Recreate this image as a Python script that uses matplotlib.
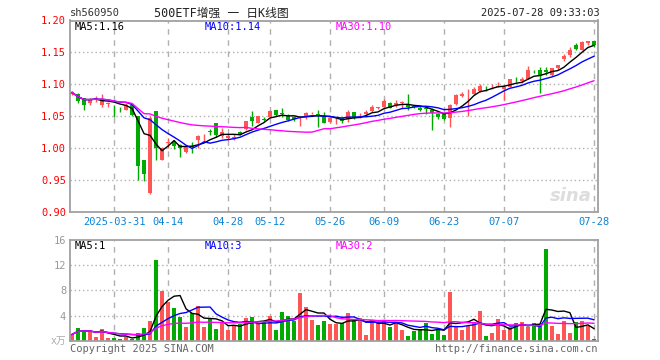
import matplotlib.pyplot as plt
import numpy as np
import pandas as pd

# sh560950 daily K data (2025-03-20 .. 2025-07-28)
holidays = ['2025-04-04', '2025-05-01', '2025-05-02', '2025-05-05', '2025-06-02']
dates = [d for d in pd.bdate_range('2025-03-20', '2025-07-28').strftime('%Y-%m-%d') if d not in holidays]

opens = [1.084, 1.085, 1.078, 1.070, 1.076, 1.068, 1.069, 1.060, 1.061, 1.060,
         1.068, 1.050, 0.982, 0.929, 1.058, 0.982, 1.008, 1.009, 1.005, 0.993,
         1.003, 1.012, 1.017, 1.026, 1.039, 1.019, 1.016, 1.015, 1.025, 1.030,
         1.048, 1.039, 1.045, 1.049, 1.060, 1.055, 1.050, 1.049, 1.047, 1.050,
         1.056, 1.053, 1.049, 1.041, 1.042, 1.047, 1.045, 1.057, 1.050, 1.053,
         1.058, 1.063, 1.065, 1.071, 1.067, 1.071, 1.069, 1.066, 1.063, 1.063,
         1.060, 1.054, 1.053, 1.047, 1.069, 1.082, 1.084, 1.084, 1.089, 1.093,
         1.100, 1.095, 1.093, 1.096, 1.105, 1.105, 1.109, 1.120, 1.122, 1.122,
         1.114, 1.126, 1.140, 1.146, 1.161, 1.154, 1.164, 1.168]
highs = [1.090, 1.087, 1.078, 1.078, 1.081, 1.084, 1.072, 1.068, 1.065, 1.071,
         1.070, 1.050, 0.982, 1.051, 1.058, 1.001, 1.016, 1.012, 1.006, 1.002,
         1.009, 1.021, 1.022, 1.030, 1.040, 1.031, 1.024, 1.022, 1.026, 1.042,
         1.058, 1.050, 1.049, 1.059, 1.060, 1.062, 1.053, 1.051, 1.049, 1.057,
         1.057, 1.059, 1.056, 1.049, 1.047, 1.048, 1.060, 1.057, 1.055, 1.060,
         1.067, 1.065, 1.077, 1.072, 1.076, 1.074, 1.084, 1.067, 1.066, 1.064,
         1.062, 1.055, 1.053, 1.069, 1.085, 1.088, 1.093, 1.095, 1.100, 1.098,
         1.101, 1.103, 1.099, 1.109, 1.112, 1.112, 1.128, 1.122, 1.127, 1.127,
         1.126, 1.130, 1.147, 1.158, 1.165, 1.168, 1.168, 1.168]
lows = [1.083, 1.071, 1.059, 1.067, 1.072, 1.065, 1.065, 1.049, 1.057, 1.059,
        1.051, 0.950, 0.949, 0.928, 0.981, 0.981, 1.000, 0.999, 0.986, 0.992,
        0.992, 1.000, 1.011, 1.020, 1.018, 1.016, 1.012, 1.012, 1.021, 1.029,
        1.034, 1.039, 1.042, 1.048, 1.050, 1.049, 1.042, 1.042, 1.034, 1.045,
        1.053, 1.033, 1.039, 1.039, 1.038, 1.039, 1.041, 1.046, 1.047, 1.052,
        1.056, 1.061, 1.064, 1.063, 1.064, 1.063, 1.059, 1.063, 1.058, 1.054,
        1.029, 1.046, 1.044, 1.033, 1.067, 1.080, 1.051, 1.083, 1.088, 1.090,
        1.093, 1.095, 1.076, 1.095, 1.104, 1.102, 1.108, 1.117, 1.086, 1.114,
        1.113, 1.122, 1.137, 1.143, 1.153, 1.153, 1.161, 1.159]
closes = [1.087, 1.074, 1.067, 1.076, 1.079, 1.076, 1.070, 1.0595, 1.0605, 1.068,
          1.052, 0.972, 0.960, 1.047, 1.000, 1.000, 1.0085, 1.003, 1.000, 1.001,
          1.002, 1.019, 1.0175, 1.0255, 1.020, 1.025, 1.019, 1.018, 1.022, 1.042,
          1.042, 1.050, 1.044, 1.058, 1.052, 1.054, 1.044, 1.045, 1.0475, 1.0555,
          1.0565, 1.050, 1.040, 1.047, 1.0425, 1.043, 1.057, 1.047, 1.0505, 1.057,
          1.065, 1.0635, 1.073, 1.063, 1.071, 1.0715, 1.064, 1.065, 1.059, 1.061,
          1.055, 1.048, 1.045, 1.067, 1.083, 1.085, 1.0845, 1.092, 1.097, 1.0925,
          1.101, 1.098, 1.096, 1.108, 1.1045, 1.109, 1.122, 1.119, 1.114, 1.1185,
          1.126, 1.130, 1.145, 1.154, 1.155, 1.166, 1.168, 1.162]
# volume, unit 万
volumes = [1.0, 2.0, 1.6, 1.54, 0.64, 1.86, 0.48, 0.48, 0.27, 0.64,
           0.3, 1.17, 2.07, 3.13, 12.8, 7.95, 6.2, 5.25, 3.7, 2.2,
           4.35, 5.5, 2.2, 3.4, 1.9, 2.75, 1.7, 2.5, 2.65, 3.65,
           3.7, 2.65, 3.0, 3.9, 1.7, 4.6, 3.9, 3.2, 7.6, 5.4,
           3.3, 2.5, 3.2, 2.65, 2.65, 2.75, 4.4, 3.3, 3.65, 0.9,
           3.3, 2.75, 3.3, 2.2, 2.75, 1.7, 0.74, 1.6, 1.9, 2.75,
           1.06, 1.7, 0.9, 7.7, 2.3, 1.7, 2.3, 3.0, 4.7, 0.74,
           1.17, 3.4, 1.7, 2.2, 2.75, 2.9, 2.2, 2.75, 2.5, 14.6,
           2.3, 1.06, 3.1, 1.17, 2.9, 3.1, 2.3, 0.2]

tick_dates = ['2025-03-31', '2025-04-14', '2025-04-28', '2025-05-12', '2025-05-26',
              '2025-06-09', '2025-06-23', '2025-07-07', '2025-07-28']
tick_labels = ['2025-03-31', '04-14', '04-28', '05-12', '05-26', '06-09', '06-23', '07-07', '07-28']
price_ticks = [0.90, 0.95, 1.00, 1.05, 1.10, 1.15, 1.20]
vol_ticks = [4, 8, 12, 16]

RED = '#ff5555'
GREEN = '#00aa00'
GRAY = '#a0a0a0'
MONO = 'DejaVu Sans Mono'
FAM = [MONO, 'Noto Sans CJK SC']

o = np.array(opens)
h = np.array(highs)
l = np.array(lows)
c = np.array(closes)
v = np.array(volumes)
x = np.arange(len(c))
cols = np.where(c >= o, RED, GREEN)
tick_idx = [dates.index(d) for d in tick_dates]

ma = {n: pd.Series(c).rolling(n, min_periods=1).mean() for n in (5, 10, 30)}
vma = {n: pd.Series(v).rolling(n, min_periods=1).mean() for n in (5, 10, 30)}
ma_cols = {5: 'black', 10: '#0000ff', 30: '#ff00ff'}

W, H = 660, 360
fig = plt.figure(figsize=(W / 100, H / 100), dpi=100)
fig.patch.set_facecolor('white')


def px(xp, yp):
    return xp / W, 1 - yp / H


ax = fig.add_axes([70.3 / W, 1 - 211.8 / H, 527.2 / W, 191.3 / H])
axv = fig.add_axes([70.3 / W, 1 - 340.7 / H, 527.2 / W, 100.7 / H])

for a in (ax, axv):
    a.set_xlim(-0.3, 87.6)
    for s in a.spines.values():
        s.set_color(GRAY)
        s.set_linewidth(1.3)
    for t in tick_idx:
        a.axvline(t, color='#b0b0b0', lw=1, ls=(0, (4, 4)), zorder=0)

# price panel
ax.set_ylim(0.90, 1.20)
for p in price_ticks[1:-1]:
    ax.axhline(p, color='#b0b0b0', lw=1, ls=(0, (1, 2)), zorder=0)
ax.vlines(x, l, h, colors=cols, lw=1, zorder=2)
body = np.maximum(np.abs(c - o), 0.0007)
ax.bar(x, body, bottom=np.minimum(o, c), width=0.72, color=cols, lw=0, zorder=3)
for n in (5, 10, 30):
    ax.plot(x, ma[n], color=ma_cols[n], lw=1, zorder=4)
ax.set_yticks(price_ticks)
ax.set_yticklabels(['%.2f' % p for p in price_ticks], family=MONO, fontsize=7.5, color='red')
ax.set_xticks(tick_idx)
ax.set_xticklabels(tick_labels, family=MONO, fontsize=7.5, color='#0a84d6')
ax.tick_params(length=0, pad=4)
ax.tick_params(axis='y', pad=3)

# volume panel
axv.set_ylim(0, 16)
for q in vol_ticks[:-1]:
    axv.axhline(q, color='#b0b0b0', lw=1, ls=(0, (1, 2)), zorder=0)
axv.bar(x, v, width=0.78, color=cols, lw=0, zorder=2)
for n in (5, 10, 30):
    axv.plot(x, vma[n], color=ma_cols[n], lw=1, zorder=3)
axv.set_yticks(vol_ticks)
axv.set_yticklabels([str(q) for q in vol_ticks], family=MONO, fontsize=7.5, color='#999999')
axv.set_xticks([])
axv.tick_params(length=0, pad=3)

# header and legends (sina truncates the shown values)
fig.text(*px(70, 13), 'sh560950', family=MONO, fontsize=7.5, color='#333333', va='center')
fig.text(*px(221, 13), '500ETF增强 一 日K线图', family=FAM, fontsize=8.5, color='#222222',
         va='center', ha='center')
fig.text(*px(600, 13), '2025-07-28 09:33:03', family=MONO, fontsize=7.5, color='#222222',
         va='center', ha='right')

legend_x = {5: 75, 10: 205, 30: 336}
for n in (5, 10, 30):
    last = np.floor(ma[n].iloc[-1] * 100) / 100
    fig.text(*px(legend_x[n], 27), 'MA%d:%.2f' % (n, last), family=MONO,
             fontsize=7.5, color=ma_cols[n], va='center')
    fig.text(*px(legend_x[n], 246), 'MA%d:%d' % (n, int(vma[n].iloc[-1])), family=MONO,
             fontsize=7.5, color=ma_cols[n], va='center')

fig.text(*px(592, 196), 'sina', fontsize=13, color='#dddddd', style='italic',
         weight='bold', ha='right', va='center')
fig.text(*px(66, 341), 'x万', family=FAM, fontsize=7, color='#aaaaaa', ha='right', va='center')
fig.text(*px(70, 349), 'Copyright 2025 SINA.COM', family=MONO, fontsize=7.5,
         color='#666666', va='center')
fig.text(*px(598, 349), 'http://finance.sina.com.cn', family=MONO, fontsize=7.5,
         color='#666666', va='center', ha='right')

fig.savefig('out.png', dpi=100)
